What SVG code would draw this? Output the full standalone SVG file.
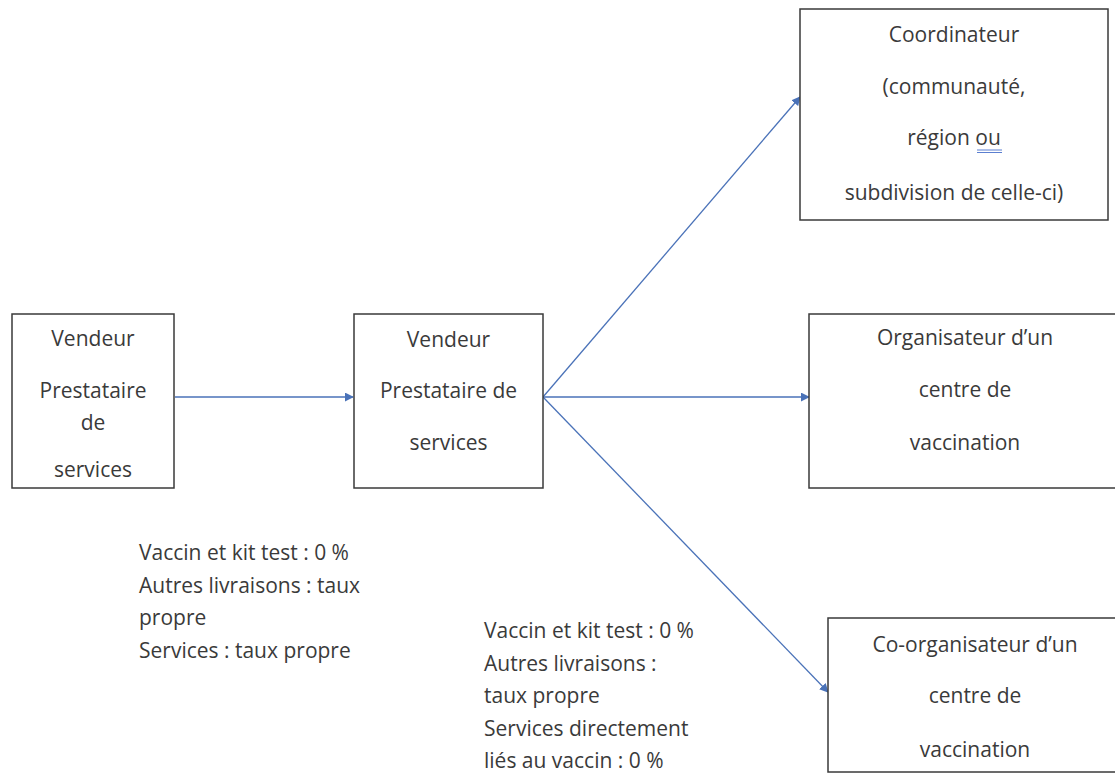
<svg xmlns="http://www.w3.org/2000/svg" width="1115" height="776" viewBox="0 0 1115 776">
<style>
.box{fill:#fff;stroke:#3a3a3a;stroke-width:1.5}
.t{font-family:"Open Sans","Liberation Sans",sans-serif;font-size:21px;fill:#3a3a3a}
.c{text-anchor:middle}
.edge{stroke:#4a72b8;stroke-width:1.3;fill:none;marker-end:url(#ah)}
</style>
<defs>
<marker id="ah" viewBox="0 0 10 10" refX="9" refY="5" markerWidth="9" markerHeight="9" orient="auto" markerUnits="userSpaceOnUse">
<path d="M0,0 L10,5 L0,10 z" fill="#4a72b8"/>
</marker>
</defs>
<rect width="1115" height="776" fill="#fff"/>
<g id="connectors">
<line class="edge" x1="175" y1="397" x2="353" y2="397"/>
<line class="edge" x1="543" y1="397" x2="800" y2="97"/>
<line class="edge" x1="543" y1="397" x2="809" y2="397"/>
<line class="edge" x1="543" y1="397" x2="828" y2="692"/>
</g>
<g id="n1">
<rect class="box" x="12" y="314" width="162" height="174"/>
<text class="t c" x="93" y="346">Vendeur</text>
<text class="t c" x="93" y="398">Prestataire</text>
<text class="t c" x="93" y="430">de</text>
<text class="t c" x="93" y="477">services</text>
</g>
<g id="n2">
<rect class="box" x="354" y="314" width="189" height="174"/>
<text class="t c" x="448.5" y="347">Vendeur</text>
<text class="t c" x="448.5" y="398">Prestataire de</text>
<text class="t c" x="448.5" y="450">services</text>
</g>
<g id="n3">
<rect class="box" x="800" y="9" width="308" height="211"/>
<text class="t c" x="954" y="42">Coordinateur</text>
<text class="t c" x="954" y="94">(communauté,</text>
<text class="t c" x="954" y="145">région ou</text>
<line x1="977" y1="150" x2="1002" y2="150" stroke="#5b7fd0" stroke-width="1"/>
<line x1="977" y1="152.5" x2="1002" y2="152.5" stroke="#5b7fd0" stroke-width="1"/>
<text class="t c" x="954" y="200">subdivision de celle-ci)</text>
</g>
<g id="n4">
<rect class="box" x="809" y="314" width="310" height="174"/>
<text class="t c" x="965" y="345">Organisateur d’un</text>
<text class="t c" x="965" y="397">centre de</text>
<text class="t c" x="965" y="450">vaccination</text>
</g>
<g id="n5">
<rect class="box" x="828" y="618" width="290" height="154"/>
<text class="t c" x="975" y="652">Co-organisateur d’un</text>
<text class="t c" x="975" y="703">centre de</text>
<text class="t c" x="975" y="757">vaccination</text>
</g>
<g id="note1">
<text class="t" x="139" y="560">Vaccin et kit test : 0 %</text>
<text class="t" x="139" y="593">Autres livraisons : taux</text>
<text class="t" x="139" y="625">propre</text>
<text class="t" x="139" y="658">Services : taux propre</text>
</g>
<g id="note2">
<text class="t" x="484" y="638">Vaccin et kit test : 0 %</text>
<text class="t" x="484" y="671">Autres livraisons :</text>
<text class="t" x="484" y="703">taux propre</text>
<text class="t" x="484" y="736">Services directement</text>
<text class="t" x="484" y="768">liés au vaccin : 0 %</text>
</g>
</svg>
